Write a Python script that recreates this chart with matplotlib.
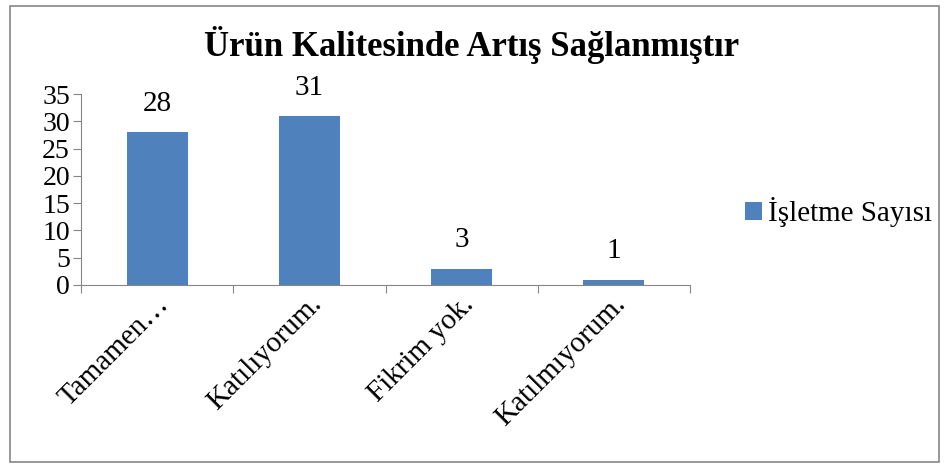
import matplotlib.pyplot as plt
import matplotlib.transforms as mtransforms
from matplotlib.patches import Rectangle

plt.rcParams['font.family'] = ['Liberation Serif', 'DejaVu Serif']

categories = ['Tamamen…', 'Katılıyorum.', 'Fikrim yok.', 'Katılmıyorum.']
values = [28, 31, 3, 1]
series_name = 'İşletme Sayısı'
title = 'Ürün Kalitesinde Artış Sağlanmıştır'

bar_color = '#4F81BD'
axis_color = '#868686'

fig = plt.figure(figsize=(9.44, 4.68), dpi=100)
fig.patches.append(Rectangle((0.011, 0.012), 0.984, 0.976, transform=fig.transFigure,
                             fill=False, edgecolor=axis_color, linewidth=1.2))

ax = fig.add_axes([81 / 944, 1 - 285 / 468, (690 - 81) / 944, (285 - 94) / 468])
x = list(range(len(categories)))
bars = ax.bar(x, values, width=0.4, color=bar_color)
for b, v in zip(bars, values):
    ax.annotate(str(v), (b.get_x() + b.get_width() / 2, v), xytext=(0, 11),
                textcoords='offset points', ha='center', va='bottom', fontsize=21)

ax.set_xlim(-0.5, len(categories) - 0.5)
ax.set_ylim(0, 35)
ax.set_yticks(range(0, 36, 5))
ax.tick_params(axis='y', labelsize=20, color=axis_color, length=6, pad=2)
ax.set_xticks([i - 0.5 for i in range(len(categories) + 1)])
ax.set_xticklabels([])
ax.set_xticks(x, minor=True)
ax.set_xticklabels(categories, minor=True, rotation=45, ha='right', va='center',
                   rotation_mode='anchor', fontsize=21)
ax.tick_params(axis='x', which='major', color=axis_color, length=6)
ax.tick_params(axis='x', which='minor', length=0, pad=11)
shift = mtransforms.ScaledTranslation(8 / 100, 0, fig.dpi_scale_trans)
for lbl in ax.get_xticklabels(minor=True):
    lbl.set_transform(lbl.get_transform() + shift)
for s in ['top', 'right']:
    ax.spines[s].set_visible(False)
for s in ['left', 'bottom']:
    ax.spines[s].set_color(axis_color)

fig.text(0.5, 1 - 45 / 468, title, ha='center', va='center', fontsize=25, fontweight='bold')

ax.legend([bars[0]], [series_name], loc='center left', bbox_to_anchor=(1.09, 0.38),
          frameon=False, fontsize=21, handlelength=0.6, handleheight=0.6, handletextpad=0.2,
          borderaxespad=0, borderpad=0)

fig.savefig('out.png', dpi=100)
